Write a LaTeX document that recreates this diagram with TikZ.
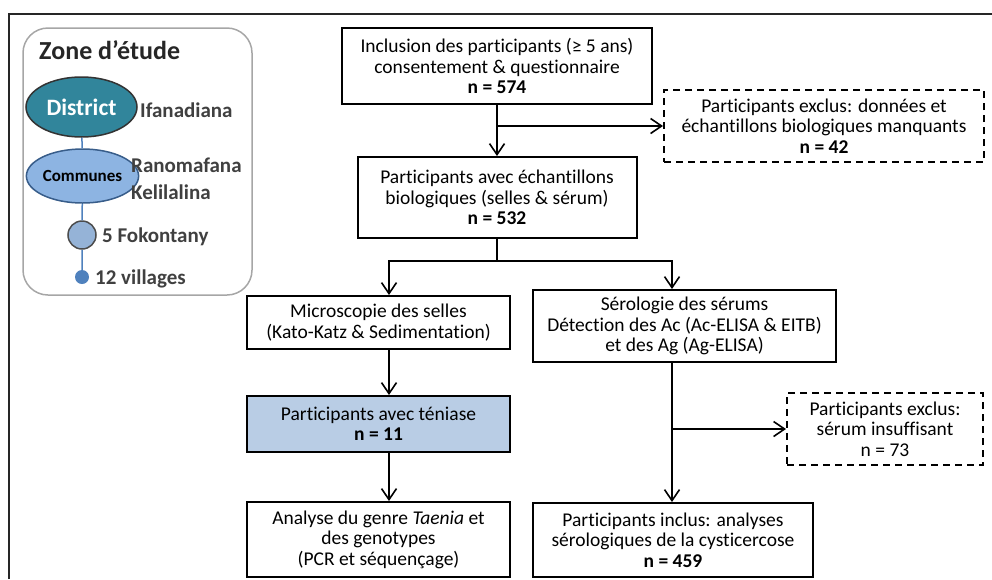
\documentclass[tikz,border=0pt]{standalone}
\usepackage{fontspec}
\setmainfont{Carlito}[Ligatures=NoCommon]
\usetikzlibrary{arrows.meta,shapes.geometric}
\definecolor{teal}{RGB}{49,133,155}
\definecolor{lblue}{RGB}{141,180,226}
\definecolor{fblue}{RGB}{149,179,215}
\definecolor{dblue}{RGB}{79,129,189}
\definecolor{eblue}{RGB}{56,93,138}
\definecolor{boxblue}{RGB}{185,205,229}
\definecolor{txtgray}{RGB}{64,64,64}
\begin{document}
\begin{tikzpicture}[x=1pt,y=-1pt,
  box/.style={draw,line width=2pt,align=center,inner sep=0pt,
    font=\fontsize{19.5}{20.5}\selectfont},
  dbox/.style={box,dashed,dash pattern=on 7pt off 5pt},
  arr/.style={line width=1.6pt,-{Straight Barb[length=11pt,width=15pt]}},
  lbl/.style={anchor=west,inner sep=0pt,text=txtgray,align=left,
    font=\fontsize{21}{27}\selectfont\bfseries}]
  \useasboundingbox (0,0) rectangle (992,579);
  \draw[line width=2.5pt,black!85] (9,579) -- (9,14) -- (992,14);
  % zone d'etude
  \node[draw=black!35,line width=1.5pt,rounded corners=25pt,
    minimum width=229pt,minimum height=267pt] (zone) at (137.5,161.5) {};
  \node[anchor=west,inner sep=0pt,text=black!85,
    font=\fontsize{26}{30}\selectfont\bfseries] (titre) at (39,50) {Zone d’étude};
  \node[ellipse,draw=black!80,line width=1.5pt,fill=teal,text=white,inner sep=0pt,
    minimum width=111pt,minimum height=60pt,font=\fontsize{23.5}{28}\selectfont\bfseries]
    (district) at (81.5,107) {District};
  \node[ellipse,draw=eblue,line width=1.5pt,fill=lblue,inner sep=0pt,
    minimum width=87pt,minimum height=54pt,font=\fontsize{17}{20}\selectfont\bfseries]
    (communes) at (82.5,176) {Communes};
  \node[circle,draw=black!70,line width=1.5pt,fill=fblue,inner sep=0pt,
    minimum size=28pt] (fokon) at (82,235) {};
  \node[circle,fill=dblue,inner sep=0pt,minimum size=14pt] (vill) at (82,277) {};
  \draw[dblue,line width=1.5pt] (district) -- (communes) -- (fokon) -- (vill);
  \node[lbl] (ifa) at (140,110) {Ifanadiana};
  \node[lbl] (rano) at (131,179) {Ranomafana\\Kelilalina};
  \node[lbl] (fok) at (102,237) {5 Fokontany};
  \node[lbl] (vil) at (95,279) {12 villages};
  % diagramme
  \node[box,minimum width=310pt,minimum height=76pt] (incl) at (497,66)
    {Inclusion des participants (≥ 5 ans)\\consentement \& questionnaire\\\textbf{n = 574}};
  \node[dbox,minimum width=320pt,minimum height=72pt] (excl1) at (824,126)
    {Participants exclus: données et\\échantillons biologiques manquants\\\textbf{n = 42}};
  \node[box,minimum width=279pt,minimum height=81pt] (bio) at (497,197.5)
    {Participants avec échantillons\\biologiques (selles \& sérum)\\\textbf{n = 532}};
  \node[box,minimum width=263pt,minimum height=53pt] (micro) at (378.5,322.5)
    {Microscopie des selles\\(Kato-Katz \& Sedimentation)};
  \node[box,minimum width=303pt,minimum height=72pt] (sero) at (684.5,326)
    {Sérologie des sérums\\Détection des Ac (Ac-ELISA \& EITB)\\et des Ag (Ag-ELISA)};
  \node[box,fill=boxblue,minimum width=263pt,minimum height=56pt] (tenia) at (378.5,424)
    {Participants avec téniase\\\textbf{n = 11}};
  \node[box,minimum width=263pt,minimum height=75pt] (genre) at (378.5,539.5)
    {Analyse du genre \textit{Taenia} et\\des genotypes\\(PCR et séquençage)};
  \node[dbox,minimum width=196pt,minimum height=72pt] (excl2) at (885,429)
    {Participants exclus:\\sérum insuffisant\\n = 73};
  \node[box,minimum width=280pt,minimum height=74pt] (inclus) at (673,540)
    {Participants inclus: analyses\\sérologiques de la cysticercose\\\textbf{n = 459}};
  % fleches
  \coordinate (lc) at (389,0);
  \coordinate (rc) at (672,0);
  \coordinate (split) at (497,261);
  \draw[arr] (incl) -- (bio);
  \draw[arr] (incl.south |- excl1.west) -- (excl1.west);
  \draw[line width=1.6pt] (bio) -- (split);
  \draw[arr] (split) -| (micro.north -| lc);
  \draw[arr] (split) -| (sero.north -| rc);
  \draw[arr] (micro.south -| lc) -- (tenia.north -| lc);
  \draw[arr] (tenia.south -| lc) -- (genre.north -| lc);
  \draw[arr] (sero.south -| rc) -- (inclus.north -| rc);
  \draw[arr] (rc |- excl2.west) -- (excl2.west);
\end{tikzpicture}
\end{document}
